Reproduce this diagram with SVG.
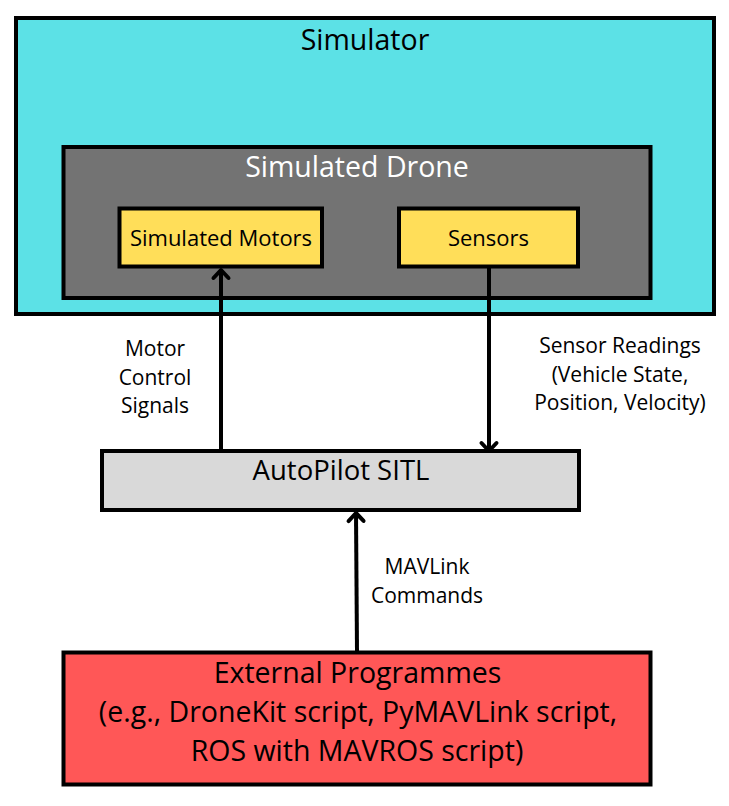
<svg xmlns="http://www.w3.org/2000/svg" width="729" height="806" viewBox="0 0 729 806">
<style>
  .box{stroke:#000;stroke-width:4}
  text{font-family:"Open Sans","Noto Sans","Liberation Sans",sans-serif;text-anchor:middle;fill:#000}
  .big{font-size:28.5px}
  .mid{font-size:22px}
  .lbl{font-size:21px}
  .conn{stroke:#000;stroke-width:4;fill:none}
</style>
<defs>
  <marker id="ah" markerUnits="userSpaceOnUse" markerWidth="24" markerHeight="24" viewBox="-12 -12 24 24" refX="0" refY="0" orient="auto" overflow="visible">
    <path d="M-8,-7.5 L0,0 L-8,7.5" fill="none" stroke="#000" stroke-width="4" stroke-linecap="round" stroke-linejoin="round"/>
  </marker>
</defs>
<rect width="729" height="806" fill="#fff"/>
<g id="simulator">
  <rect class="box" x="16" y="18" width="698" height="296" fill="#5CE1E6"/>
  <text class="big" x="365" y="50">Simulator</text>
</g>
<g id="simulated-drone">
  <rect class="box" x="63.5" y="147" width="587" height="151" fill="#737373"/>
  <text class="big" x="357" y="177" style="fill:#fff">Simulated Drone</text>
</g>
<g id="simulated-motors">
  <rect class="box" x="119.5" y="208.5" width="202.5" height="58" fill="#FFDE59"/>
  <text class="mid" x="221" y="246">Simulated Motors</text>
</g>
<g id="sensors">
  <rect class="box" x="399" y="208.5" width="179" height="58" fill="#FFDE59"/>
  <text class="mid" x="488.5" y="246">Sensors</text>
</g>
<g id="autopilot-sitl">
  <rect class="box" x="102" y="451" width="477" height="59" fill="#D9D9D9"/>
  <text class="big" x="341" y="480" style="font-size:27.5px">AutoPilot SITL</text>
</g>
<g id="external-programmes">
  <rect class="box" x="63.5" y="652.5" width="587" height="132" fill="#FF5757"/>
  <text class="big" x="357.5" y="683">External Programmes</text>
  <text class="big" x="358" y="722">(e.g., DroneKit script, PyMAVLink script,</text>
  <text class="big" x="357" y="761">ROS with MAVROS script)</text>
</g>
<g id="connectors">
  <line class="conn" x1="221" y1="451" x2="221" y2="270" marker-end="url(#ah)"/>
  <line class="conn" x1="489" y1="268" x2="489" y2="451" marker-end="url(#ah)"/>
  <line class="conn" x1="357" y1="652" x2="356" y2="513" marker-end="url(#ah)"/>
</g>
<g id="labels">
  <text class="lbl" x="155" y="356">Motor</text>
  <text class="lbl" x="155" y="384.7">Control</text>
  <text class="lbl" x="155" y="413.4">Signals</text>
  <text class="lbl" x="620" y="353">Sensor Readings</text>
  <text class="lbl" x="620" y="381.7">(Vehicle State,</text>
  <text class="lbl" x="620" y="410.4">Position, Velocity)</text>
  <text class="lbl" x="427" y="574">MAVLink</text>
  <text class="lbl" x="427" y="602.7">Commands</text>
</g>
</svg>
